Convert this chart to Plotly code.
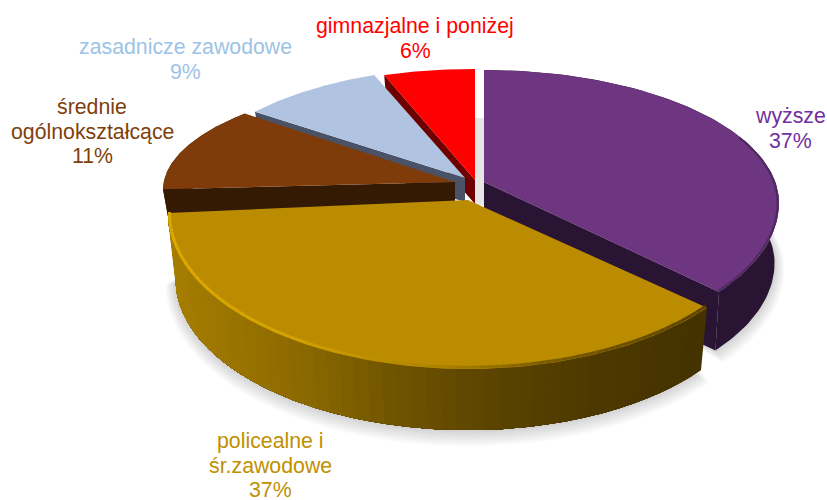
import numpy as np
import plotly.graph_objects as go

# ---- data (clockwise from 12 o'clock)
categories = ["wyższe", "policealne i<br>śr.zawodowe", "średnie<br>ogólnokształcące",
              "zasadnicze zawodowe", "gimnazjalne i poniżej"]
shares = [37, 37, 11, 9, 6]
tick_pct = ["37%", "37%", "11%", "9%", "6%"]

# ---- drawing style (not data)
top_col = ["#6e3580", "#bb8c00", "#7f3c0a", "#b0c4e2", "#ff0000"]
cut_col = ["#2a1434", "#4a3600", "#351a03", "#4a5268", "#6e0000"]
txt_col = ["#7030a0", "#bf9000", "#7f3f0a", "#9dc3e6", "#ff0000"]
# apex x,y ; ellipse cx,cy ; rx ; ry back ; ry front ; depth ; base shrink ; which radial face shows
geom = [
    dict(ax=484, ay=182, cx=484, cy=203, rx=295, rb=133, rf=147, d=60, k=0.985, cut="end"),
    dict(ax=468, ay=200, cx=468, cy=214, rx=300, rb=150, rf=155, d=65, k=0.975, cut=None),
    dict(ax=455, ay=182, cx=455, cy=190, rx=292, rb=110, rf=110, d=40, k=0.975, cut="start"),
    dict(ax=465, ay=178, cx=465, cy=211, rx=292, rb=143, rf=143, d=24, k=0.975, cut="start"),
    dict(ax=475, ay=180, cx=475, cy=190, rx=292, rb=121, rf=121, d=24, k=0.975, cut="start"),
]
label_pos = [(790, 116), (270, 441), (92, 107), (185, 47), (415, 26)]


def warp(theta):
    """Perspective correction from pie angle to ellipse parameter (degrees)."""
    r = np.radians(theta)
    return theta - 7.03 * np.sin(r) - 5.34 * np.sin(2 * r) + 2.69 * np.sin(3 * r) - 4.7 * (1 - np.cos(r))


def rim(g, t, scale=1.0, dy=0.0, grow=0.0):
    r = np.radians(t)
    c = np.cos(r)
    ry = np.where(c > 0, g["rb"], g["rf"]) * scale + grow
    return g["cx"] + (g["rx"] * scale + grow) * np.sin(r), g["cy"] + dy - ry * c


fig = go.Figure()


def poly(x, y, color, lw=0.0, lc=None):
    fig.add_trace(go.Scatter(x=list(x), y=list(y), mode="lines", fill="toself", fillcolor=color,
                             line=dict(color=lc or color, width=lw), hoverinfo="skip", showlegend=False))


def seg(x, y, color, w):
    fig.add_trace(go.Scatter(x=list(x), y=list(y), mode="lines", line=dict(color=color, width=w),
                             hoverinfo="skip", showlegend=False))


total = sum(shares)
edges = np.concatenate([[0], np.cumsum(shares)]) * 360.0 / total
ranges = [(warp(edges[i]), warp(edges[i + 1])) for i in range(len(shares))]

# soft shadows
for idx in (0, 1):
    g = geom[idx]
    t = np.linspace(ranges[idx][0], ranges[idx][1], 120)
    for grow in range(1, 8):
        x, y = rim(g, t, g["k"], g["d"] + grow * 0.9, grow * 1.4)
        poly(np.r_[g["ax"], x], np.r_[g["ay"] + 40, y], "rgba(0,0,0,0.022)")
# grey shadow in the gap beside the purple slice
poly([475, 484, 484, 475], [118, 118, 205, 205], "#e6e6e6")

gold_x = [165, 200, 300, 400, 500, 600, 705]
gold_rgb = np.array([[168, 128, 0], [160, 122, 0], [142, 107, 0], [112, 85, 0], [92, 68, 0], [78, 58, 0], [68, 50, 0]])
bevel_x = [165, 300, 450, 550, 705]
bevel_rgb = np.array([[222, 170, 0], [212, 162, 0], [170, 128, 0], [122, 92, 0], [92, 68, 0]])


def mix(xm, xs, rgb):
    return "rgb(%d,%d,%d)" % tuple(np.interp(xm, xs, rgb[:, j]) for j in range(3))


order = [0, 4, 3, 2, 1]
for idx in order:
    g = geom[idx]
    t0, t1 = ranges[idx]
    t = np.linspace(t0, t1, 100)
    xt, yt = rim(g, t)
    xb, yb = rim(g, t, g["k"], g["d"])
    # radial cut face
    if g["cut"]:
        j = 0 if g["cut"] == "start" else -1
        poly([g["ax"], xt[j], xb[j], g["ax"]], [g["ay"], yt[j], yb[j], g["ay"] + g["d"]], cut_col[idx])
    # outer wall
    if idx == 1:
        # overlapping bands, painted from one end to the other, so no seams appear
        n = len(t)
        for i in range(0, n - 1, 2):
            sel = np.arange(i, n)
            poly(np.r_[xt[sel], xb[sel][::-1]], np.r_[yt[sel], yb[sel][::-1]], mix(xt[i], gold_x, gold_rgb))
    elif idx in (0, 2):
        poly(np.r_[xt, xb[::-1]], np.r_[yt, yb[::-1]], cut_col[idx])
    # top face
    poly(np.r_[g["ax"], xt, g["ax"]], np.r_[g["ay"], yt, g["ay"]], top_col[idx])
    # bevel along front rim
    if idx == 1:
        xi, yi = rim(g, t, 0.995, -1)
        for i in range(len(t) - 1):
            seg(xi[i:i + 2], yi[i:i + 2], mix(xi[i], bevel_x, bevel_rgb), 3)
    elif idx == 0:
        xi, yi = rim(g, t, 0.995, 0)
        for i in range(len(t) - 1):
            if t[i] > 60:
                seg(xi[i:i + 2], yi[i:i + 2], "#4d2a5e", 2)

# labels
for name, pct, col, (lx, ly) in zip(categories, tick_pct, txt_col, label_pos):
    lines = name.split("<br>") + [pct]
    for n, line in enumerate(lines):
        fig.add_annotation(x=lx, y=ly + n * 24.5, text=line, showarrow=False,
                           font=dict(family="Liberation Sans", size=21.3, color=col),
                           xanchor="center", yanchor="middle")

fig.update_layout(width=827, height=500, margin=dict(l=0, r=0, t=0, b=0), paper_bgcolor="white",
                  plot_bgcolor="white", showlegend=False,
                  xaxis=dict(range=[0, 827], visible=False, fixedrange=True),
                  yaxis=dict(range=[500, 0], visible=False, fixedrange=True))
# drop the browser's default 8 px body margin so the 827x500 figure fills the window
fig.write_html("out.html", config={"displayModeBar": False},
               post_script="document.body.style.margin='0';")
